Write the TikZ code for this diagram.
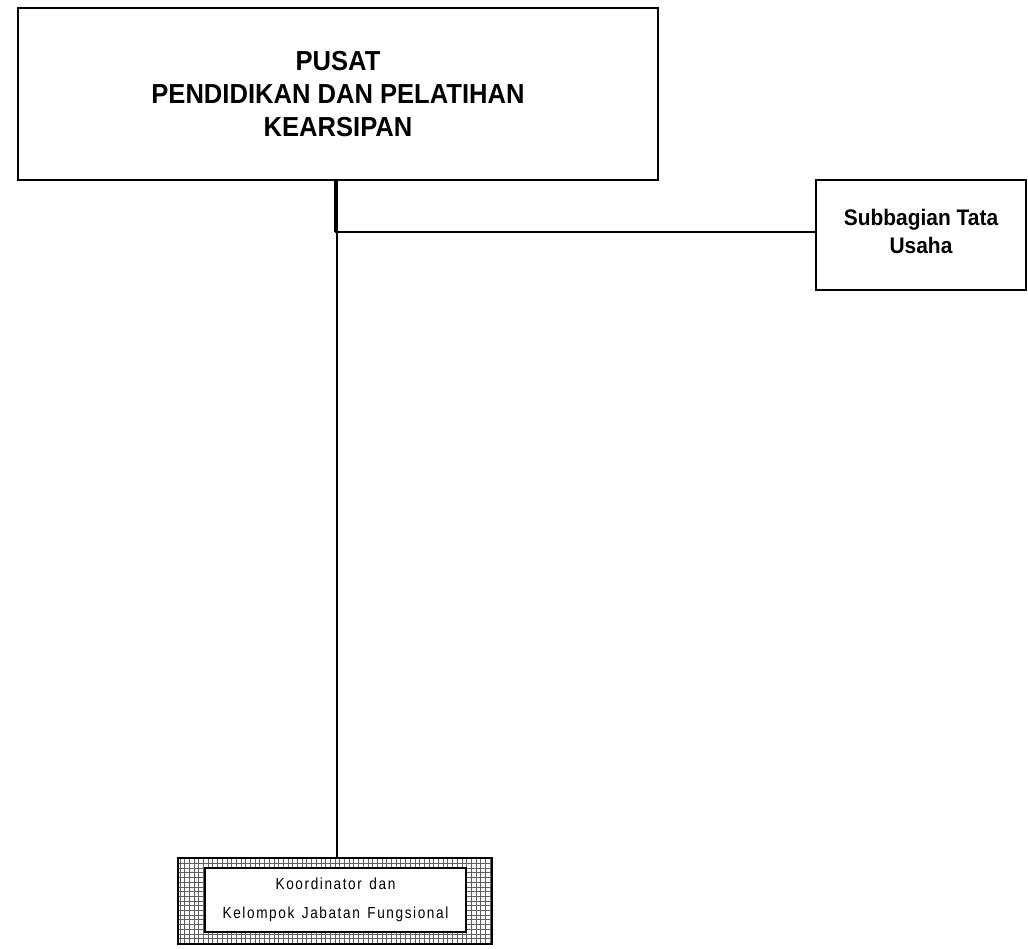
\documentclass[tikz,border=0pt]{standalone}
\usepackage{fontspec}
\setmainfont{Liberation Sans}[FakeStretch=0.93]
\newfontfamily\plainfont{Liberation Sans}[FakeStretch=0.85,LetterSpace=10,WordSpace=1.4]
\begin{document}
\begin{tikzpicture}[x=1pt,y=-1pt,
  unitbox/.style={draw,line width=1.4pt,align=center,inner sep=0pt,font=\bfseries},
  link/.style={line width=1.2pt}]
\useasboundingbox (0,0) rectangle (1028,949);

% head of the centre
\node[unitbox,minimum width=640pt,minimum height=172pt,
      font=\bfseries\fontsize{27.5}{33}\selectfont] (head) at (338,94)
  {PUSAT\\PENDIDIKAN DAN PELATIHAN\\KEARSIPAN};

% administrative subdivision, its caption set a little above centre
\node[unitbox,minimum width=210pt,minimum height=110pt] (tu) at (921,235) {};
\node[align=center,inner sep=0pt,font=\bfseries\fontsize{22.5}{28}\selectfont]
  (tutext) at ([yshift=4pt]tu.center) {Subbagian Tata\\Usaha};

% functional group: cross-hatched frame with a white inner box
\node[draw,line width=1.4pt,minimum width=314pt,minimum height=86pt,inner sep=0pt,
      path picture={
        \draw[step=4.7pt,line width=0.8pt,gray!75!black]
          (path picture bounding box.south west) grid (path picture bounding box.north east);
      }] (fung) at (335,901) {};
\node[draw,fill=white,line width=1.4pt,minimum width=261pt,minimum height=64pt,inner sep=0pt,
      align=center,font=\plainfont\fontsize{16}{29}\selectfont] (koord) at (335.5,900)
  {Koordinator dan\\Kelompok Jabatan Fungsional};

% connectors: staff line to the subdivision, line of command down to the group
\coordinate (s) at (335,232);
\coordinate (v) at (337,232);
\draw[link] (head.south -| v) -- (v |- fung.north);
\draw[line width=2pt] (head.south -| s) -- (s);
\draw[link] (s) -- (s -| tu.west);
\end{tikzpicture}
\end{document}
